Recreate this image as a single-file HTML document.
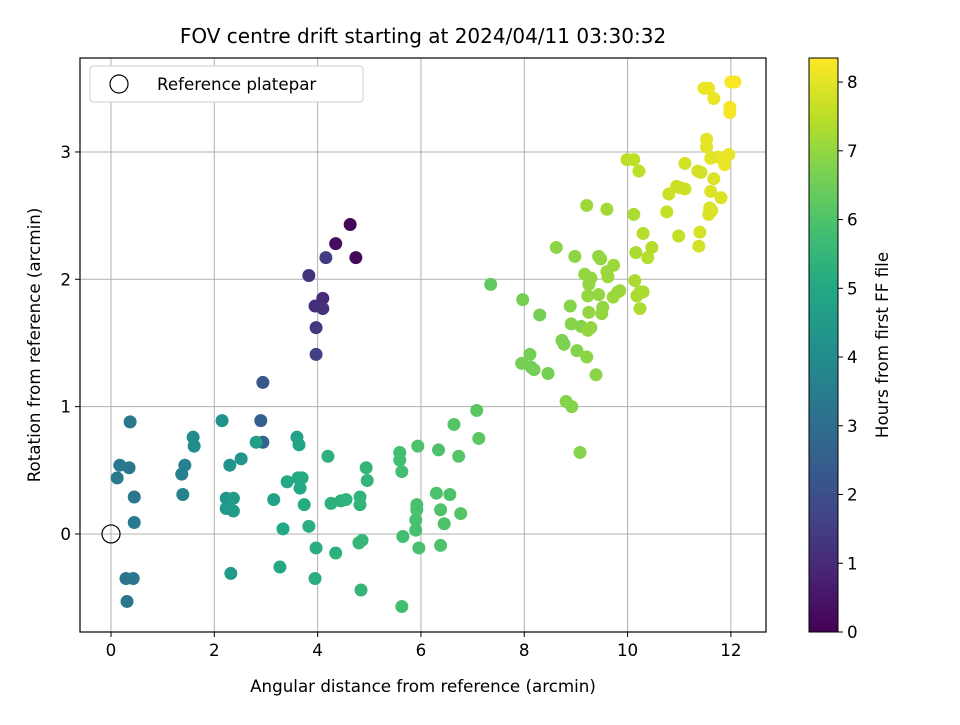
<!DOCTYPE html>
<html><head><meta charset="utf-8"><style>
body{margin:0;background:#fff;}
svg{font-family:"DejaVu Sans","Liberation Sans",sans-serif;}
</style></head><body>
<svg id="chart" width="960" height="720" viewBox="0 0 960 720" xmlns="http://www.w3.org/2000/svg">
<rect width="960" height="720" fill="#fff"/>
<text x="423" y="43" font-size="20" text-anchor="middle">FOV centre drift starting at 2024/04/11 03:30:32</text>
<g id="grid"></g>
<g id="points"></g>
<rect x="80" y="58" width="686" height="574" fill="none" stroke="#000" stroke-width="1.2"/>
<g id="xaxis"></g>
<g id="yaxis"></g>
<text x="423" y="692" font-size="16.7" text-anchor="middle">Angular distance from reference (arcmin)</text>
<text transform="translate(40,345) rotate(-90)" font-size="16.7" text-anchor="middle">Rotation from reference (arcmin)</text>
<g>
<rect x="90" y="66" width="273" height="36" rx="3" fill="#fff" stroke="#ccc"/>
<circle cx="119" cy="84" r="9" fill="none" stroke="#000" stroke-width="1.2"/>
<text x="157" y="90" font-size="16.7">Reference platepar</text>
</g>
<defs><linearGradient id="vir" x1="0" y1="1" x2="0" y2="0"></linearGradient></defs>
<rect x="809" y="58" width="29" height="574" fill="url(#vir)" stroke="#000" stroke-width="1"/>
<g id="cbar"></g>
<text transform="translate(888,345) rotate(-90)" font-size="16.7" text-anchor="middle">Hours from first FF file</text>
</svg>
<script>
const xs=[4.63,4.35,4.74,4.16,3.83,4.10,3.95,4.10,3.97,3.97,2.94,2.90,2.94,
0.37,0.17,0.35,0.12,0.45,0.45,0.29,0.43,0.31,1.43,1.37,1.39,1.59,1.61,2.15,2.30,2.52,2.23,2.23,2.37,2.37,2.32,2.81,3.15,3.33,3.27,3.41,3.60,3.64,3.62,3.66,3.70,3.74,3.83,3.97,3.95,4.20,4.26,4.35,4.45,4.55,4.82,4.82,4.94,4.96,4.86,4.80,4.84,
5.59,5.59,5.63,5.65,5.63,5.94,5.92,5.92,5.90,5.90,5.96,6.34,6.30,6.56,6.38,6.45,6.38,6.64,6.73,6.77,7.08,7.12,7.35,
7.97,8.62,8.30,8.11,7.95,8.13,8.19,8.46,8.73,8.77,8.81,8.92,8.89,8.91,8.98,9.02,9.08,9.10,9.21,9.17,9.25,9.23,9.29,9.25,9.23,9.29,9.21,9.39,9.44,9.48,9.44,9.50,9.52,9.60,9.60,9.62,9.73,9.72,9.81,9.85,9.99,10.12,10.12,10.16,10.14,10.18,10.24,10.30,10.24,10.22,10.30,10.47,10.39,
10.80,10.76,10.95,10.99,11.01,11.11,11.11,11.36,11.42,11.38,11.40,11.48,11.57,11.67,11.53,11.53,11.61,11.75,11.67,11.61,11.59,11.57,11.63,11.81,11.86,11.88,11.96,11.98,11.98,12.00,12.08];
const ys=[2.43,2.28,2.17,2.17,2.03,1.85,1.79,1.77,1.62,1.41,1.19,0.89,0.72,
0.88,0.54,0.52,0.44,0.29,0.09,-0.35,-0.35,-0.53,0.54,0.47,0.31,0.76,0.69,0.89,0.54,0.59,0.28,0.20,0.28,0.18,-0.31,0.72,0.27,0.04,-0.26,0.41,0.76,0.70,0.44,0.36,0.44,0.23,0.06,-0.11,-0.35,0.61,0.24,-0.15,0.26,0.27,0.29,0.23,0.52,0.42,-0.05,-0.07,-0.44,
0.64,0.58,0.49,-0.02,-0.57,0.69,0.23,0.19,0.11,0.03,-0.11,0.66,0.32,0.31,0.19,0.08,-0.09,0.86,0.61,0.16,0.97,0.75,1.96,
1.84,2.25,1.72,1.41,1.34,1.31,1.29,1.26,1.52,1.49,1.04,1.00,1.79,1.65,2.18,1.44,0.64,1.63,2.58,2.04,1.96,1.87,2.01,1.74,1.60,1.62,1.39,1.25,2.18,2.16,1.88,1.73,1.78,2.06,2.55,2.02,2.11,1.86,1.90,1.91,2.94,2.94,2.51,2.21,1.99,1.87,1.90,1.90,1.77,2.85,2.36,2.25,2.17,
2.67,2.53,2.73,2.34,2.72,2.71,2.91,2.85,2.84,2.26,2.37,3.50,3.50,3.42,3.10,3.04,2.95,2.96,2.79,2.69,2.56,2.51,2.54,2.64,2.94,2.90,2.98,3.35,3.31,3.55,3.55];
const hours=[0.1,0.3,0.2,1.5,1.2,1.0,1.1,1.2,1.3,1.6,2.3,2.5,2.7,
3.3,3.3,3.3,3.4,3.3,3.4,3.2,3.3,3.3,3.6,3.6,3.7,4.0,4.0,4.2,4.3,4.3,4.3,4.5,4.5,4.5,4.5,4.7,4.8,5.0,5.0,5.0,4.8,4.9,5.0,5.0,5.1,5.1,5.2,5.2,5.2,5.3,5.3,5.3,5.3,5.4,5.4,5.4,5.5,5.5,5.5,5.5,5.5,
5.8,5.8,5.8,5.8,5.8,6.0,5.9,5.9,5.9,5.9,5.9,6.0,6.0,6.0,6.0,6.0,6.0,6.1,6.1,6.1,6.2,6.2,6.3,
6.6,6.9,6.6,6.6,6.6,6.6,6.6,6.6,6.7,6.7,6.8,6.8,6.8,6.8,6.9,6.8,6.8,6.8,7.1,7.0,7.0,7.0,7.0,7.0,7.0,7.0,6.9,6.9,7.0,7.0,7.0,7.0,7.0,7.1,7.2,7.1,7.1,7.1,7.1,7.1,7.5,7.5,7.3,7.3,7.3,7.3,7.3,7.3,7.3,7.5,7.4,7.4,7.4,
7.7,7.6,7.7,7.6,7.7,7.7,7.8,7.8,7.8,7.8,7.8,8.1,8.1,8.1,8.0,8.0,8.0,8.0,7.9,7.9,7.9,7.9,7.9,7.9,8.1,8.1,8.1,8.2,8.2,8.3,8.3];
const xTicks=[0,2,4,6,8,10,12];
const yTicks=[0,1,2,3];
const cTicks=[0,1,2,3,4,5,6,7,8];
const NS="http://www.w3.org/2000/svg";
const X0=80,X1=766,Y0=58,Y1=632,xmin=-0.6,xmax=12.68,ymin=-0.77,ymax=3.738,hmax=8.35;
const sx=v=>X0+(v-xmin)/(xmax-xmin)*(X1-X0);
const sy=v=>Y1-(v-ymin)/(ymax-ymin)*(Y1-Y0);
const sc=v=>632-v/hmax*574;
const vstops=["#440154","#482475","#414487","#355f8d","#2a788e","#21918c","#22a884","#44bf70","#7ad151","#bddf26","#fde725"];
function hex(c){return [1,3,5].map(i=>parseInt(c.substr(i,2),16));}
function viridis(t){t=Math.max(0,Math.min(1,t));const p=t*10,i=Math.min(9,Math.floor(p)),f=p-i;const a=hex(vstops[i]),b=hex(vstops[i+1]);return "rgb("+a.map((v,k)=>Math.round(v+(b[k]-v)*f)).join(",")+")";}
function mk(tag,attrs,parent){const e=document.createElementNS(NS,tag);for(const k in attrs)e.setAttribute(k,attrs[k]);parent.appendChild(e);return e;}
const grad=document.getElementById('vir');
vstops.forEach((c,i)=>mk('stop',{offset:(i*10)+'%','stop-color':c},grad));
const grid=document.getElementById('grid'),xa=document.getElementById('xaxis'),ya=document.getElementById('yaxis'),pts=document.getElementById('points'),cb=document.getElementById('cbar');
xTicks.forEach(t=>{const x=sx(t);
let g=mk('line',{x1:x,x2:x,y1:Y0,y2:Y1,stroke:'#b0b0b0','stroke-width':1},grid);

let tk=mk('line',{x1:x,x2:x,y1:Y1,y2:Y1+5,stroke:'#000'},xa);

let tx=mk('text',{x:x,y:Y1+24,'font-size':16.7,'text-anchor':'middle'},xa);tx.textContent=t;
});
yTicks.forEach(t=>{const y=sy(t);
let g=mk('line',{x1:X0,x2:X1,y1:y,y2:y,stroke:'#b0b0b0','stroke-width':1},grid);

let tk=mk('line',{x1:X0-5,x2:X0,y1:y,y2:y,stroke:'#000'},ya);

let tx=mk('text',{x:X0-9,y:y+6,'font-size':16.7,'text-anchor':'end'},ya);tx.textContent=t;
});
cTicks.forEach(t=>{const y=sc(t);
let tk=mk('line',{x1:838,x2:843,y1:y,y2:y,stroke:'#000'},cb);

let tx=mk('text',{x:847,y:y+6,'font-size':16.7},cb);tx.textContent=t;
});
xs.forEach((v,i)=>{
const c=mk('circle',{cx:sx(v),cy:sy(ys[i]),r:6.5,fill:viridis(hours[i]/hmax)},pts);

});
const ref=mk('circle',{cx:sx(0),cy:sy(0),r:9,fill:'none',stroke:'#000','stroke-width':1.2},pts);


</script>
</body></html>
